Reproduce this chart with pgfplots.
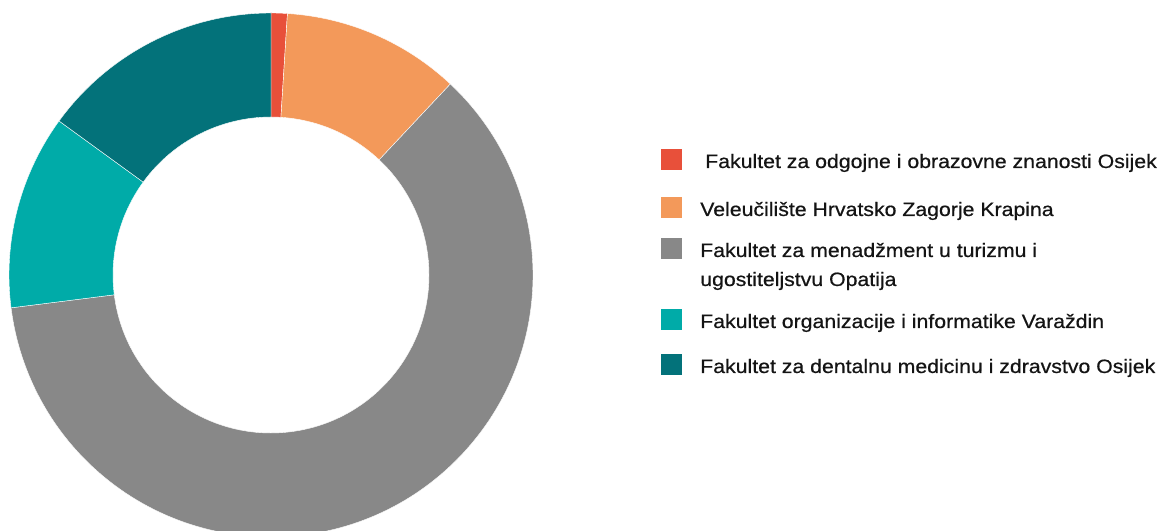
\documentclass[border=0pt]{standalone}
\usepackage{fontspec}
\setmainfont{Liberation Sans}[FakeStretch=1.1, FakeBold=0.6]
\usepackage{pgfplots}
\pgfplotsset{compat=1.18}
\usepackage{pgfplotstable}

\definecolor{c0}{RGB}{232,80,58}
\definecolor{c1}{RGB}{243,153,90}
\definecolor{c2}{RGB}{136,136,136}
\definecolor{c3}{RGB}{0,171,168}
\definecolor{c4}{RGB}{3,114,122}

\pgfplotstableread{
value
1
11
61
12
15
}\donutdata

\gdef\cum{0}%
\foreach \i in {0,...,4}{%
  \pgfplotstablegetelem{\i}{value}\of\donutdata
  \pgfmathsetmacro\angA{90-3.6*\cum}%
  \pgfmathsetmacro\angB{90-3.6*(\cum+\pgfplotsretval)}%
  \expandafter\xdef\csname sa\i\endcsname{\angA}%
  \expandafter\xdef\csname sb\i\endcsname{\angB}%
  \pgfmathsetmacro\newcum{\cum+\pgfplotsretval}%
  \xdef\cum{\newcum}%
}%

\begin{document}%
\begin{tikzpicture}
\begin{axis}[x=0.75pt, y=0.75pt, xmin=0, xmax=1162, ymin=0, ymax=531,
  hide axis, clip=true, scale only axis, at={(0,0)}, anchor=south west]
\pgfplotsinvokeforeach{0,...,4}{
  \fill[c#1, draw=white, line width=0.3pt]
    (axis cs:{271+262*cos(\csname sa#1\endcsname)},{256+262*sin(\csname sa#1\endcsname)})
    arc[start angle=\csname sa#1\endcsname, end angle=\csname sb#1\endcsname, radius=196.5pt]
    -- (axis cs:{271+158*cos(\csname sb#1\endcsname)},{256+158*sin(\csname sb#1\endcsname)})
    arc[start angle=\csname sb#1\endcsname, end angle=\csname sa#1\endcsname, radius=118.5pt]
    -- cycle;
}
% legend
\fill[c0] (axis cs:661,{531-170.5}) rectangle (axis cs:682,{531-149.5});
\fill[c1] (axis cs:661,{531-218.5}) rectangle (axis cs:682,{531-197.5});
\fill[c2] (axis cs:661,{531-259.5}) rectangle (axis cs:682,{531-238.5});
\fill[c3] (axis cs:661,{531-330.5}) rectangle (axis cs:682,{531-309.5});
\fill[c4] (axis cs:661,{531-375.5}) rectangle (axis cs:682,{531-354.5});
\begin{scope}[every node/.style={anchor=base west, inner sep=0pt, text=black!92, font=\fontsize{14.5}{20}\selectfont}]
\node at (axis cs:705,{531-168}) {Fakultet za odgojne i obrazovne znanosti Osijek};
\node at (axis cs:700,{531-216}) {Veleučilište Hrvatsko Zagorje Krapina};
\node at (axis cs:700,{531-257}) {Fakultet za menadžment u turizmu i};
\node at (axis cs:700,{531-286}) {ugostiteljstvu Opatija};
\node at (axis cs:700,{531-328}) {Fakultet organizacije i informatike Varaždin};
\node at (axis cs:700,{531-373}) {Fakultet za dentalnu medicinu i zdravstvo Osijek};
\end{scope}
\end{axis}
\pgfresetboundingbox
\path[use as bounding box] (current axis.south west) rectangle (current axis.north east);
\end{tikzpicture}%
\end{document}
